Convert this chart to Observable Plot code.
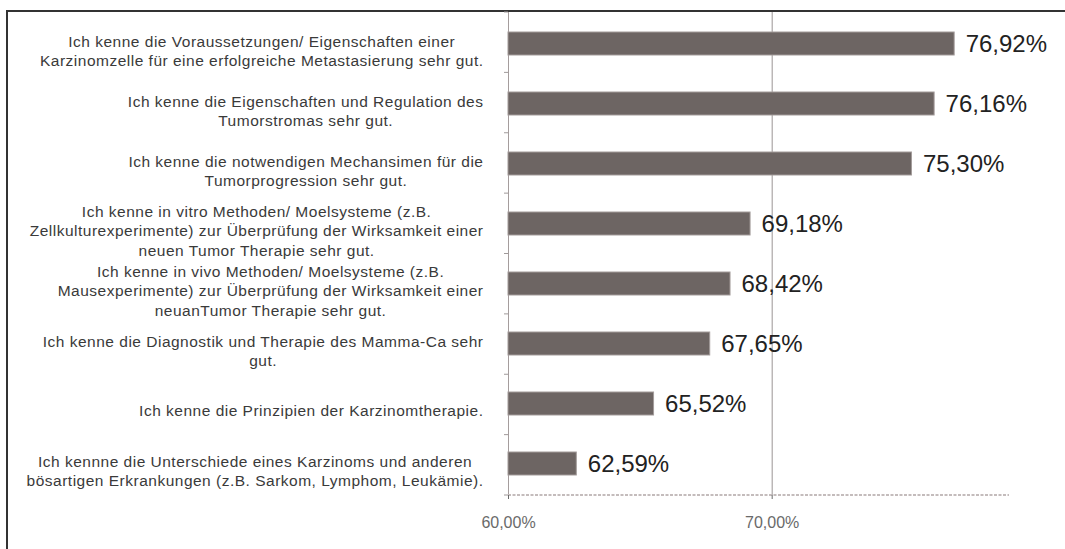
<!DOCTYPE html>
<html><head><meta charset="utf-8">
<script src="https://cdn.jsdelivr.net/npm/d3@7"></script>
<script src="https://cdn.jsdelivr.net/npm/@observablehq/plot@0.6"></script>
<style>
html,body{margin:0;padding:0;background:#fff;}
#wrap{position:relative;width:1065px;height:549px;overflow:hidden;}
#frame{position:absolute;left:6px;top:10px;width:1200px;height:700px;border-left:2px solid #333;border-top:2px solid #333;}
#chart{position:absolute;left:0;top:0;}
</style></head><body>
<div id="wrap"><div id="frame"></div><div id="chart"></div></div>
<script>
const statements = [
  "Ich kenne die Voraussetzungen/ Eigenschaften einer\nKarzinomzelle für eine erfolgreiche Metastasierung sehr gut.",
  "Ich kenne die Eigenschaften und Regulation des\nTumorstromas sehr gut.",
  "Ich kenne die notwendigen Mechansimen für die\nTumorprogression sehr gut.",
  "Ich kenne in vitro Methoden/ Moelsysteme (z.B.\nZellkulturexperimente) zur Überprüfung der Wirksamkeit einer\nneuen Tumor Therapie sehr gut.",
  "Ich kenne in vivo Methoden/ Moelsysteme (z.B.\nMausexperimente) zur Überprüfung der Wirksamkeit einer\nneuanTumor Therapie sehr gut.",
  "Ich kenne die Diagnostik und Therapie des Mamma-Ca sehr\ngut.",
  "Ich kenne die Prinzipien der Karzinomtherapie.",
  "Ich kennne die Unterschiede eines Karzinoms und anderen\nbösartigen Erkrankungen (z.B. Sarkom, Lymphom, Leukämie)."
];
const shares = [76.92, 76.16, 75.30, 69.18, 68.42, 67.65, 65.52, 62.59];
const xTicks = [60, 70];
const xDomain = [60, 79];

const data = statements.map((s, i) => ({statement: s, share: shares[i]}));
const fmt = v => v.toFixed(2).replace(".", ",") + "%";

function axisDecor(index, scales, values, dims) {
  const {width, height, marginLeft, marginRight, marginTop, marginBottom} = dims;
  const g = d3.create("svg:g");
  const n = statements.length;
  const top = marginTop, bottom = height - marginBottom;
  const step = (bottom - top) / n;
  for (let i = 0; i <= n; i++) {
    const y = top + i * step;
    g.append("line").attr("x1", marginLeft - 4).attr("x2", marginLeft)
      .attr("y1", y).attr("y2", y).attr("stroke", "#a09a9a");
  }
  g.append("line").attr("x1", marginLeft).attr("x2", width - marginRight)
    .attr("y1", bottom).attr("y2", bottom)
    .attr("stroke", "#c4bcbc").attr("stroke-width", 2).attr("stroke-dasharray", "3,1.5");
  return g.node();
}

const plot = Plot.plot({
  width: 1065, height: 549,
  marginLeft: 508, marginRight: 56, marginTop: 12, marginBottom: 54,
  style: {fontFamily: "'Liberation Sans', Arial, sans-serif", background: "transparent", overflow: "visible"},
  x: {domain: xDomain, clamp: true},
  y: {domain: statements, paddingInner: 0.62, paddingOuter: 0.31},
  marks: [
    Plot.ruleX([70], {stroke: "#9a9494", strokeWidth: 1}),
    Plot.ruleX([60], {stroke: "#a59d9d", strokeWidth: 1}),
    axisDecor,
    Plot.barX(data, {x: "share", y: "statement", fill: "#6d6563", stroke: "#a39b9a", strokeWidth: 1}),
    Plot.text(data, {x: "share", y: "statement", text: d => fmt(d.share), textAnchor: "start", dx: 11, fontSize: 24, fill: "#222"}),
    Plot.axisX({ticks: xTicks, tickFormat: fmt, tickSize: 4, tickPadding: 17, fontSize: 16, color: "#6a6a6a", label: null}),
    Plot.axisY({tickSize: 0, tickPadding: 25, fontSize: 15.5, lineHeight: 1.26, color: "#3a3a3a", dy: 6, textAnchor: "end", label: null})
  ]
});
document.getElementById("chart").appendChild(plot);

// center each wrapped label's lines within its right-aligned block
const yLabels = plot.querySelector('g[aria-label="y-axis tick label"]');
if (yLabels) {
  yLabels.style.letterSpacing = "0.5px";
  yLabels.querySelectorAll("text").forEach(t => {
    const spans = t.querySelectorAll("tspan");
    const parts = spans.length ? Array.from(spans) : [t];
    const w = Math.max(...parts.map(p => p.getComputedTextLength()));
    t.setAttribute("text-anchor", "middle");
    parts.forEach(p => p.setAttribute("x", -w / 2));
  });
}
</script>
</body></html>
